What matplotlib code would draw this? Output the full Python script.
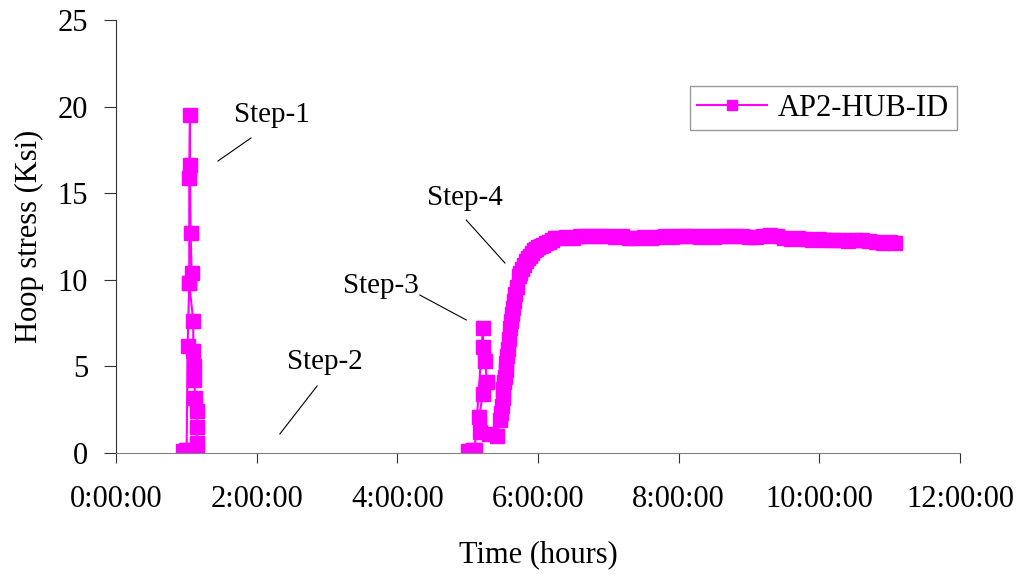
import matplotlib.pyplot as plt
from matplotlib.ticker import FuncFormatter, MultipleLocator

plt.rcParams['font.family'] = ['Liberation Serif', 'DejaVu Serif']

# time in hours, hoop stress in Ksi
step1_t = [0.95, 0.99, 1.005, 1.019, 1.042, 1.042, 1.052, 1.052, 1.062, 1.076, 1.042,
           1.099, 1.099, 1.113, 1.113, 1.128, 1.147, 1.147, 1.147, 1.159]
step1_s = [0.1, 0.15, 0.2, 6.2, 9.8, 15.9, 19.5, 16.6, 12.7, 10.4, 9.8,
           7.6, 5.9, 5.0, 4.2, 3.2, 2.4, 1.5, 0.6, 0.0]

step3_t = [5.00, 5.04, 5.08, 5.10, 5.218, 5.218, 5.247, 5.275, 5.218, 5.161, 5.176, 5.30, 5.417]
step3_s = [0.1, 0.1, 0.15, 0.17, 7.2, 6.1, 5.3, 4.1, 3.4, 2.1, 1.2, 1.1, 1.0]

step4_t = [5.46, 5.47, 5.49, 5.50, 5.50, 5.52, 5.53, 5.54, 5.55, 5.56, 5.57, 5.59,
           5.60, 5.62, 5.63, 5.65, 5.66, 5.68, 5.70, 5.73, 5.75, 5.77, 5.80, 5.83,
           5.86, 5.89, 5.92, 5.94, 5.97, 6.00, 6.04, 6.07, 6.11, 6.16, 6.20, 6.24]
step4_s = [1.9, 2.3, 2.7, 3.2, 3.7, 4.1, 4.4, 4.8, 5.2, 5.6, 6.0, 6.6,
           7.2, 7.6, 8.0, 8.4, 8.8, 9.2, 9.6, 10.2, 10.4, 10.6, 10.85, 11.1,
           11.25, 11.4, 11.55, 11.7, 11.8, 11.9, 11.95, 12.0, 12.1, 12.2, 12.3, 12.4]

plateau_t = [6.3, 6.4, 6.5, 6.6, 6.7, 6.8, 6.9, 7.0, 7.1, 7.2, 7.3, 7.4, 7.5, 7.6, 7.7,
             7.8, 7.9, 8.0, 8.1, 8.2, 8.3, 8.4, 8.5, 8.6, 8.7, 8.8, 8.9, 9.0, 9.1, 9.2,
             9.3, 9.4, 9.5, 9.6, 9.7, 9.8, 9.9, 10.0, 10.1, 10.2, 10.3, 10.4, 10.5,
             10.6, 10.7, 10.8, 10.9, 11.0, 11.08]
plateau_s = [12.4, 12.45, 12.4, 12.5, 12.5, 12.55, 12.5, 12.5, 12.45, 12.5, 12.4, 12.4,
             12.45, 12.4, 12.45, 12.5, 12.45, 12.5, 12.55, 12.5, 12.45, 12.5, 12.45, 12.5,
             12.55, 12.5, 12.5, 12.45, 12.45, 12.55, 12.6, 12.5, 12.4, 12.35, 12.4, 12.35,
             12.3, 12.35, 12.3, 12.3, 12.3, 12.25, 12.3, 12.3, 12.25, 12.2, 12.15, 12.2, 12.1]

# gap (no readings) between step 1 and step 3
time_h = step1_t + [float('nan')] + step3_t + step4_t + plateau_t
stress = step1_s + [float('nan')] + step3_s + step4_s + plateau_s

# step labels: text position, leader line start/end
labels = ["Step-1", "Step-2", "Step-3", "Step-4"]
label_xy = [(2.22, 19.5), (2.97, 5.25), (3.77, 9.65), (4.96, 14.7)]
leader = [((1.92, 18.19), (1.45, 16.86)), ((2.86, 3.87), (2.33, 1.10)),
          ((4.32, 9.12), (4.98, 7.68)), ((4.98, 13.45), (5.53, 10.97))]

fig = plt.figure(figsize=(10.28, 5.75), dpi=100)
ax = fig.add_axes([0.1128, 0.2122, 0.8211, 0.753])

ax.plot(time_h, stress, color='#FF00FF', lw=1.5, marker='s', markersize=10,
        markeredgecolor='#FF00FF', label='AP2-HUB-ID')

for txt, (tx, ty), (p0, p1) in zip(labels, label_xy, leader):
    ax.text(tx, ty, txt, fontsize=21, ha='center', va='center')
    ax.plot([p0[0], p1[0]], [p0[1], p1[1]], color='black', lw=0.8)

ax.set_xlim(0, 12)
ax.set_ylim(0, 25)
ax.xaxis.set_major_locator(MultipleLocator(2))
ax.yaxis.set_major_locator(MultipleLocator(5))
ax.xaxis.set_major_formatter(FuncFormatter(lambda v, p: f"{int(round(v))}:00:00"))

ax.spines['top'].set_visible(False)
ax.spines['right'].set_visible(False)
ax.spines['left'].set_color('#333333')
ax.spines['bottom'].set_color('#808080')
ax.tick_params(axis='y', labelsize=22, length=9, pad=11, color='#333333')
ax.tick_params(axis='x', labelsize=22, length=7, pad=16, color='#333333')

ax.set_xlabel("Time (hours)", fontsize=22, labelpad=19)
ax.set_ylabel("Hoop stress (Ksi)", fontsize=22, labelpad=10)

leg = ax.legend(loc='upper right', bbox_to_anchor=(0.9964, 0.8476), fontsize=22,
                fancybox=False, markerscale=0.75, handlelength=2.3,
                borderpad=0.25, handletextpad=0.35, borderaxespad=0)
leg.get_frame().set_edgecolor('#808080')
leg.get_frame().set_linewidth(1.0)

fig.savefig("out.png", dpi=100)
